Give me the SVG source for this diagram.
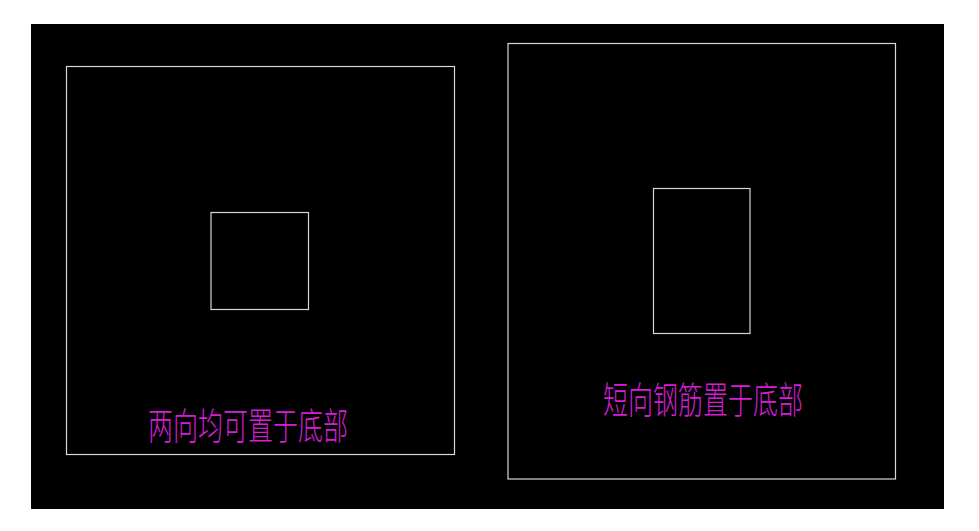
<svg xmlns="http://www.w3.org/2000/svg" width="979" height="531" viewBox="0 0 979 531">
<style>
.ln{fill:none;stroke:#d8d8d8;stroke-width:1.2}
.lb{fill:#d61ed6;font-family:"Noto Sans CJK SC","Noto Sans CJK JP",sans-serif;font-size:37px;font-weight:300}
</style>
<rect x="0" y="0" width="979" height="531" fill="#ffffff"/>
<rect x="31" y="24" width="913" height="485" fill="#000000"/>
<g id="left-slab">
<rect class="ln" x="66.5" y="66.5" width="388" height="388"/>
<rect class="ln" x="211" y="212.5" width="97.5" height="97"/>
<text class="lb" x="148" y="440" textLength="200" lengthAdjust="spacingAndGlyphs">两向均可置于底部</text>
</g>
<g id="right-slab">
<rect class="ln" x="508" y="43.5" width="387.5" height="435.5"/>
<rect class="ln" x="653.5" y="188.5" width="96.5" height="145"/>
<text class="lb" x="603" y="414" textLength="200" lengthAdjust="spacingAndGlyphs">短向钢筋置于底部</text>
</g>
<g id="connectors"/>
</svg>
